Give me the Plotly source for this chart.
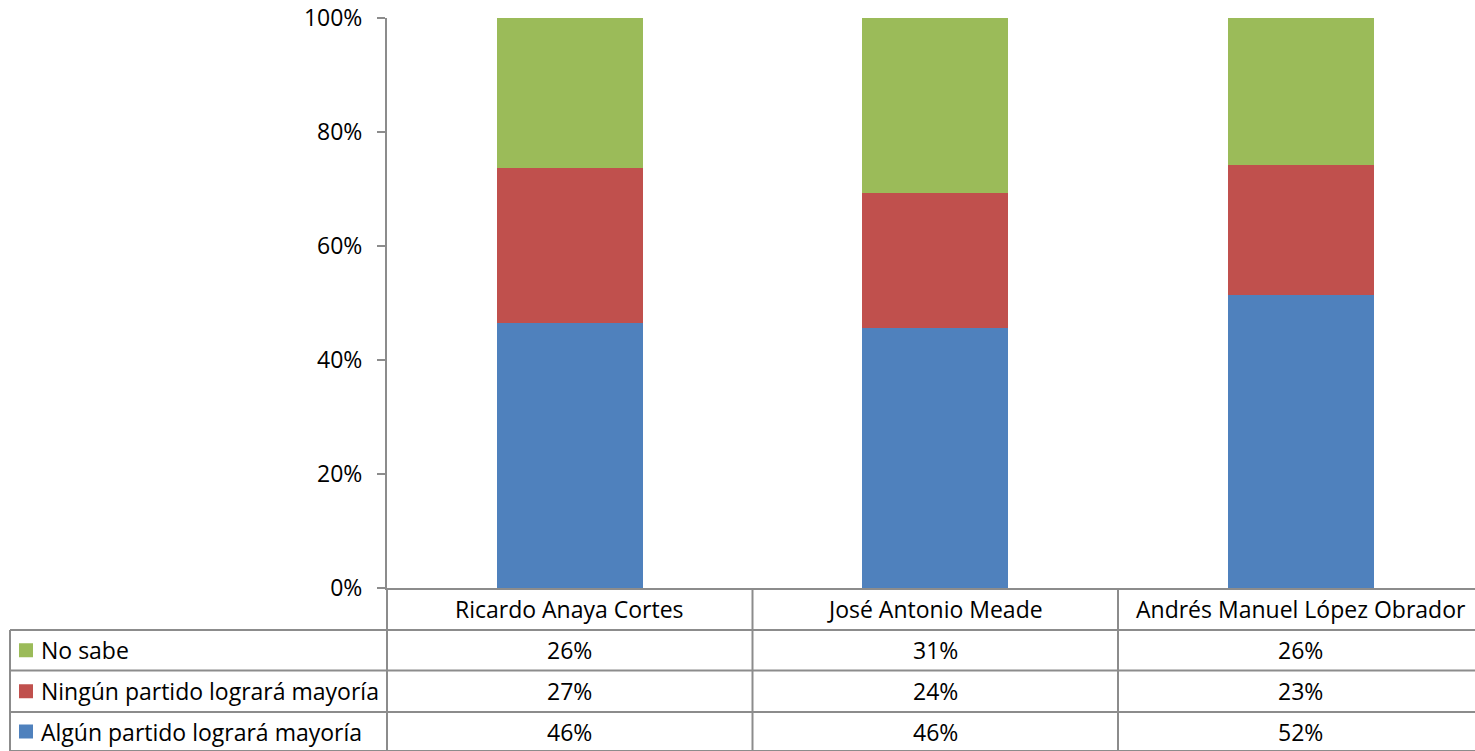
import plotly.graph_objects as go

categories = ["Ricardo Anaya Cortes", "José Antonio Meade", "Andrés Manuel López Obrador"]
series_names = ["Algún partido logrará mayoría", "Ningún partido logrará mayoría", "No sabe"]
algun = [46, 46, 52]
ningun = [27, 24, 23]
no_sabe = [26, 31, 26]
series_values = [algun, ningun, no_sabe]
colors = ["#4F81BD", "#C0504D", "#9BBB59"]
y_ticks = [0, 20, 40, 60, 80, 100]
y_tick_labels = ["0%", "20%", "40%", "60%", "80%", "100%"]

W, H = 1475, 751
L, T, B = 387, 18, 588
FONT = "Open Sans"
FS = 23
LINE = "#8C8C8C"

def py(p):  # pixel y -> paper y
    return (B - p) / (B - T)

def px(p):  # pixel x -> paper x
    return (p - L) / (W - L)

fig = go.Figure()
for name, vals, col in zip(series_names, series_values, colors):
    fig.add_trace(go.Bar(x=categories, y=vals, name=name, marker=dict(color=col, line=dict(width=0)),
                         width=0.4, hoverinfo="skip"))

fig.update_layout(
    barmode="stack", barnorm="percent",
    width=W, height=H,
    margin=dict(l=L, r=0, t=T, b=H - B, pad=0),
    paper_bgcolor="white", plot_bgcolor="white",
    showlegend=False,
    font=dict(family=FONT, size=FS, color="black"),
)
fig.update_xaxes(range=[-0.5, -0.5 + (W - L) / 365.5], showticklabels=False, ticks="",
                 showline=True, linecolor=LINE, linewidth=2, showgrid=False, zeroline=False)
fig.update_yaxes(range=[0, 100], tickvals=y_ticks, ticktext=y_tick_labels, ticks="outside", ticklen=8,
                 tickcolor=LINE, tickwidth=2, showline=True, linecolor=LINE, linewidth=2,
                 ticklabelstandoff=10,
                 showgrid=False, zeroline=False, tickfont=dict(family=FONT, size=FS))

rows_px = [588, 630, 670.5, 712, 751]
shapes = []
for yp in rows_px[1:]:
    shapes.append(dict(type="line", xref="paper", yref="paper", x0=px(10), x1=1.0, y0=py(yp), y1=py(yp),
                       line=dict(color=LINE, width=2)))
shapes.append(dict(type="line", xref="paper", yref="paper", x0=px(10), x1=px(10), y0=py(630), y1=py(751),
                   line=dict(color=LINE, width=2)))
shapes.append(dict(type="line", xref="paper", yref="paper", x0=0, x1=0, y0=py(588), y1=py(751),
                   line=dict(color=LINE, width=2)))
for xb in [0.5, 1.5]:
    shapes.append(dict(type="line", xref="x", yref="paper", x0=xb, x1=xb, y0=py(588), y1=py(751),
                       line=dict(color=LINE, width=2)))

annotations = []
for i, c in enumerate(categories):
    annotations.append(dict(x=i, xref="x", y=py(609), yref="paper", text=c, showarrow=False,
                            xanchor="center", yanchor="middle", font=dict(family=FONT, size=FS)))

table_order = [2, 1, 0]  # No sabe, Ningún, Algún
for r, si in enumerate(table_order):
    yc = (rows_px[r + 1] + rows_px[r + 2]) / 2
    shapes.append(dict(type="rect", xref="paper", yref="paper", x0=px(19), x1=px(33),
                       y0=py(yc + 7), y1=py(yc - 7), fillcolor=colors[si], line=dict(width=0)))
    annotations.append(dict(x=px(39), xref="paper", y=py(yc), yref="paper", text=series_names[si],
                            showarrow=False, xanchor="left", yanchor="middle",
                            font=dict(family=FONT, size=FS)))
    for i, v in enumerate(series_values[si]):
        annotations.append(dict(x=i, xref="x", y=py(yc), yref="paper", text=f"{v}%", showarrow=False,
                                xanchor="center", yanchor="middle", font=dict(family=FONT, size=FS)))

fig.update_layout(shapes=shapes, annotations=annotations)
fig.write_html("out.html", config={"displayModeBar": False},
               post_script="document.body.style.margin='0';document.body.style.overflow='hidden';")
